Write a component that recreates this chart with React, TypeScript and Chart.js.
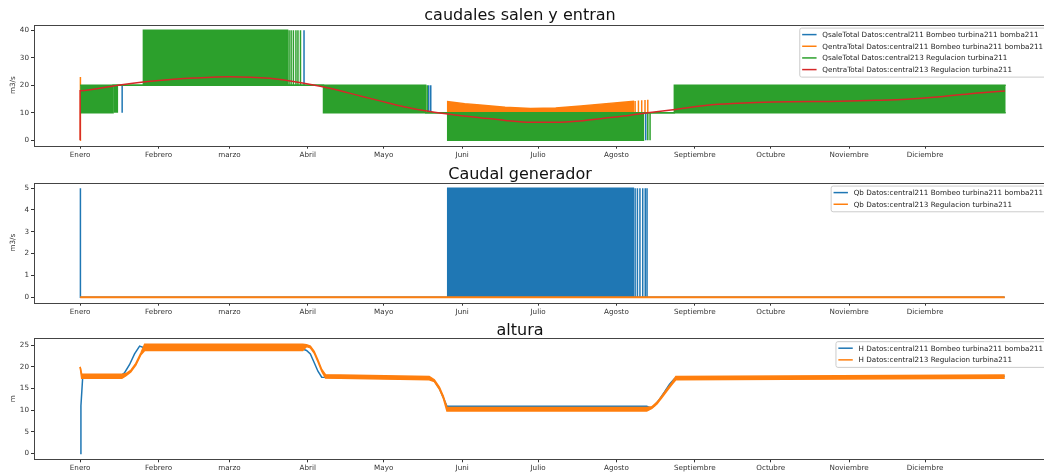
import React, { useEffect, useRef } from "react";
import { Chart, registerables } from "chart.js";

Chart.register(...registerables);

const FONT = "'DejaVu Sans', 'Liberation Sans', sans-serif";
const BLUE = "#1f77b4";
const ORANGE = "#ff7f0e";
const GREEN = "#2ca02c";
const RED = "#d62728";

// ---------- shared x axis (days of the year) ----------
const MONTH_LABELS = ["Enero", "Febrero", "marzo", "Abril", "Mayo", "Juni", "Julio", "Agosto", "Septiembre", "Octubre", "Noviembre", "Diciembre"];
const MONTH_DAYS = [0, 31, 59, 90, 120, 151, 181, 212, 243, 273, 304, 334];

// ---------- plot 1 : caudales salen y entran ----------
const P1_TITLE = "caudales salen y entran";
const P1_YLABEL = "m3/s";
const P1_YTICKS = [0, 10, 20, 30, 40];
const P1_LABELS = [
  "QsaleTotal Datos:central211 Bombeo turbina211 bomba211",
  "QentraTotal Datos:central211 Bombeo turbina211 bomba211",
  "QsaleTotal Datos:central213 Regulacion turbina211",
  "QentraTotal Datos:central213 Regulacion turbina211",
];
// QsaleTotal central211 (visible only where it sticks out of the green band)
const Q211_SPIKE_DAYS = [16.6, 88.5, 137.8, 138.6, 223.6];
const Q211_SPIKE_LOW = [10, 20, 10, 10, 0];
const Q211_SPIKE_HIGH = [20, 40, 20, 20, 10];
// QentraTotal central211
const QE211_START_DAYS = [0, 0, 0.2];
const QE211_START = [0, 23, 20];
const QE211_SUMMER_DAYS = [145.3, 145.3, 152, 158, 168, 178, 188, 198, 208, 218.7, 218.7];
const QE211_SUMMER = [10, 14.0, 13.3, 12.8, 12.0, 11.5, 11.7, 12.4, 13.3, 14.1, 10];
const QE211_SPIKE_DAYS = [219.4, 220.7, 222.0, 223.3, 224.4];
const QE211_SPIKE_LOW = [10, 10, 10, 10, 10];
const QE211_SPIKE_HIGH = [14.3, 14.4, 14.5, 14.6, 14.7];
// QsaleTotal central213 (fast oscillation, drawn as its envelope)
const QS213_DAYS = [0, 13.0, 13.0, 25.0, 25.0, 82.0, 82.0, 96.2, 96.2, 136.6, 136.6, 145.3, 145.3, 222.7, 222.7, 234.9, 234.9, 365.9];
const QS213_HIGH = [20, 20, 20, 20, 40, 40, 20, 20, 20, 20, 10, 10, 10, 10, 10, 10, 20, 20];
const QS213_LOW = [10, 10, 20, 20, 20, 20, 20, 20, 10, 10, 10, 10, 0, 0, 10, 10, 10, 10];
const QS213_SPIKE_DAYS = [13.5, 14.1, 14.7, 82.6, 83.4, 84.3, 85.3, 86.1, 87.1, 137.2, 224.4, 225.3];
const QS213_SPIKE_LOW = [10, 10, 10, 20, 20, 20, 20, 20, 20, 10, 0, 0];
const QS213_SPIKE_HIGH = [20, 20, 20, 40, 40, 40, 40, 40, 40, 20, 10, 10];
// QentraTotal central213
const QE213_DAYS = [0, 0, 15, 30, 45, 59, 75, 89, 100, 110.7, 118.6, 128, 138.3, 148, 158, 168, 177.9, 188, 197.6, 207, 217.4, 225.3, 234.4, 247.8, 260, 273.9, 300.4, 315, 326.9, 339.9, 353, 365.6];
const QE213 = [0, 18, 20, 21.6, 22.6, 23.1, 22.5, 20.6, 18.6, 16.1, 14.3, 12.2, 10.4, 9.2, 8.2, 7.2, 6.5, 6.5, 7.0, 8.0, 9.1, 10.1, 11.1, 12.7, 13.4, 13.9, 14.2, 14.5, 14.9, 15.8, 17.0, 17.9];

// ---------- plot 2 : Caudal generador ----------
const P2_TITLE = "Caudal generador";
const P2_YLABEL = "m3/s";
const P2_YTICKS = [0, 1, 2, 3, 4, 5];
const P2_LABELS = [
  "Qb Datos:central211 Bombeo turbina211 bomba211",
  "Qb Datos:central213 Regulacion turbina211",
];
const QB211_DAYS = [0, 0, 0.2, 145.3, 145.3, 218.7, 218.7, 365.5];
const QB211 = [0, 5, 0, 0, 5, 5, 0, 0];
const QB211_SPIKE_DAYS = [219.4, 220.3, 221.3, 222.4, 223.4, 224.1];
const QB211_SPIKE_LOW = [0, 0, 0, 0, 0, 0];
const QB211_SPIKE_HIGH = [5, 5, 5, 5, 5, 5];
const QB213_DAYS = [0, 365.5];
const QB213 = [0, 0];

// ---------- plot 3 : altura ----------
const P3_TITLE = "altura";
const P3_YLABEL = "m";
const P3_YTICKS = [0, 5, 10, 15, 20, 25];
const P3_LABELS = [
  "H Datos:central211 Bombeo turbina211 bomba211",
  "H Datos:central213 Regulacion turbina211",
];
const H211_DAYS = [0, 0.3, 1.0, 15.8, 17.5, 19.5, 21.5, 23.5, 25, 87.5, 88.5, 89.5, 91, 92.5, 94, 95.5, 138, 140, 142, 143.5, 145, 224, 225.5, 227, 229, 231, 233, 235, 365.5];
const H211 = [0, 11, 17.6, 17.8, 18.6, 20.5, 23, 24.8, 24.5, 24.5, 24, 23.8, 23, 21, 19, 17.6, 17.3, 16.8, 15, 13, 10.9, 10.9, 10.5, 11, 12.5, 14.2, 16, 17.3, 17.8];
const H213_DAYS = [0, 0.6, 16.5, 18, 20, 22, 24, 25.5, 88, 89.5, 91, 92.5, 94, 95.5, 97, 138, 140, 142, 143.5, 145, 224, 226, 228, 230, 232, 234, 235.5, 365.5];
const H213_HIGH = [20, 18.3, 18.3, 18.4, 19.2, 20.8, 23.2, 25.2, 25.2, 25.1, 24.8, 23.6, 21.6, 19.4, 18.2, 17.8, 17.0, 15.3, 13.3, 10.6, 10.6, 10.8, 11.8, 13.3, 14.9, 16.4, 17.8, 18.1];
const H213_LOW = [20, 17.4, 17.4, 17.9, 18.8, 20.4, 22.8, 23.8, 23.8, 24.7, 24.4, 23.2, 21.2, 19.0, 17.4, 17.0, 16.6, 14.9, 12.9, 9.8, 9.8, 10.4, 11.4, 12.9, 14.5, 16.0, 17.0, 17.4];

// ---------- layout ----------
const CANVAS_W = 1056;
const AXIS_LEFT = 34;
const PAD_RIGHT = 6.4;
const X_MIN = -18.25;
const X_MAX = 383.25;
const TITLE_X = 520;

type Pt = { x: number; y: number | null };
const zip = (xs: number[], ys: number[]): Pt[] => xs.map((x, i) => ({ x, y: ys[i] }));
const gap = (x: number): Pt => ({ x, y: null });
const spikes = (xs: number[], lo: number[], hi: number[]): Pt[] =>
  xs.flatMap((x, i) => [{ x, y: lo[i] }, { x, y: hi[i] }, gap(x)]);

type Spec = {
  datasets: any[];
  ymin: number;
  ymax: number;
  yticks: number[];
  ylabel: string;
  padTop: number;
  xAxisH: number;
  title: string;
  titleY: number;
  legend: { label: string; color: string }[];
};

function mplPlugin(spec: Spec) {
  return {
    id: "mpl",
    afterDraw(chart: any) {
      const { ctx, chartArea: a } = chart;
      ctx.save();
      // axes frame
      ctx.strokeStyle = "#444";
      ctx.lineWidth = 1;
      const l = Math.round(a.left) + 0.5;
      const t = Math.round(a.top) + 0.5;
      ctx.strokeRect(l, t, Math.round(a.right) - Math.round(a.left), Math.round(a.bottom) - Math.round(a.top));
      // title
      ctx.font = `16px ${FONT}`;
      ctx.fillStyle = "#111";
      ctx.textAlign = "center";
      ctx.textBaseline = "alphabetic";
      ctx.fillText(spec.title, TITLE_X, spec.titleY);
      // legend (upper right, matplotlib style)
      const fs = 7.2;
      ctx.font = `${fs}px ${FONT}`;
      const maxW = Math.max(...spec.legend.map((it) => ctx.measureText(it.label).width));
      const pitch = fs * 1.62;
      const n = spec.legend.length;
      const w = fs * 3.6 + maxW;
      const h = fs * 0.8 + (n - 1) * pitch + fs * 1.15;
      const x0 = a.right - fs * 0.5 - w;
      const y0 = a.top + fs * 0.4;
      ctx.beginPath();
      ctx.roundRect(x0 + 0.5, y0 + 0.5, w, h, 2);
      ctx.fillStyle = "rgba(255,255,255,0.8)";
      ctx.fill();
      ctx.strokeStyle = "#cccccc";
      ctx.lineWidth = 1;
      ctx.stroke();
      ctx.textAlign = "left";
      ctx.textBaseline = "middle";
      spec.legend.forEach((it, i) => {
        const cy = y0 + fs * 0.4 + fs * 0.575 + i * pitch;
        ctx.beginPath();
        ctx.moveTo(x0 + fs * 0.4, cy);
        ctx.lineTo(x0 + fs * 2.4, cy);
        ctx.strokeStyle = it.color;
        ctx.lineWidth = 1.5;
        ctx.stroke();
        ctx.fillStyle = "#222";
        ctx.fillText(it.label, x0 + fs * 3.2, cy + 0.5);
      });
      ctx.restore();
    },
  };
}

function makeConfig(spec: Spec) {
  const tickFont = { family: FONT, size: 7.2 };
  const n = spec.datasets.length;
  return {
    type: "line",
    data: {
      datasets: spec.datasets.map((d, i) => ({
        order: n - i,
        pointRadius: 0,
        pointHoverRadius: 0,
        borderWidth: 1.5,
        tension: 0,
        spanGaps: false,
        fill: false,
        ...d,
      })),
    },
    options: {
      responsive: false,
      animation: false,
      devicePixelRatio: 1,
      events: [],
      layout: { padding: { top: spec.padTop, right: PAD_RIGHT, left: 0, bottom: 0 } },
      plugins: {
        legend: { display: false },
        title: { display: false },
        tooltip: { enabled: false },
      },
      scales: {
        x: {
          type: "linear",
          min: X_MIN,
          max: X_MAX,
          afterFit: (s: any) => {
            s.height = spec.xAxisH;
          },
          afterBuildTicks: (s: any) => {
            s.ticks = MONTH_DAYS.map((v) => ({ value: v }));
          },
          ticks: {
            callback: (_v: any, i: number) => MONTH_LABELS[i],
            autoSkip: false,
            maxRotation: 0,
            minRotation: 0,
            font: tickFont,
            color: "#333",
            padding: 2,
          },
          grid: { drawOnChartArea: false, drawTicks: true, tickLength: 3, color: "#333" },
          border: { display: false },
        },
        y: {
          type: "linear",
          min: spec.ymin,
          max: spec.ymax,
          afterFit: (s: any) => {
            s.width = AXIS_LEFT;
          },
          afterBuildTicks: (s: any) => {
            s.ticks = spec.yticks.map((v) => ({ value: v }));
          },
          ticks: { font: tickFont, color: "#333", padding: 2, callback: (v: any) => String(v) },
          title: { display: true, text: spec.ylabel, font: tickFont, color: "#333", padding: { top: 9, bottom: 0 } },
          grid: { drawOnChartArea: false, drawTicks: true, tickLength: 3, color: "#333" },
          border: { display: false },
        },
      },
    },
    plugins: [mplPlugin(spec)],
  };
}

const SPEC1: Spec = {
  title: P1_TITLE,
  titleY: 20,
  ylabel: P1_YLABEL,
  ymin: -2,
  ymax: 42,
  yticks: P1_YTICKS,
  padTop: 24.7,
  xAxisH: 165 - 145.7,
  legend: [
    { label: P1_LABELS[0], color: BLUE },
    { label: P1_LABELS[1], color: ORANGE },
    { label: P1_LABELS[2], color: GREEN },
    { label: P1_LABELS[3], color: RED },
  ],
  datasets: [
    { label: P1_LABELS[0], data: spikes(Q211_SPIKE_DAYS, Q211_SPIKE_LOW, Q211_SPIKE_HIGH), borderColor: BLUE },
    {
      label: P1_LABELS[1],
      data: [
        ...zip(QE211_START_DAYS, QE211_START),
        gap(0.2),
        ...zip(QE211_SUMMER_DAYS, QE211_SUMMER),
        gap(218.7),
        ...spikes(QE211_SPIKE_DAYS, QE211_SPIKE_LOW, QE211_SPIKE_HIGH),
      ],
      borderColor: ORANGE,
      backgroundColor: ORANGE,
      fill: { value: 10 },
    },
    { label: P1_LABELS[2], data: zip(QS213_DAYS, QS213_HIGH), borderColor: GREEN, backgroundColor: GREEN, fill: "+1" },
    { label: "_low", data: zip(QS213_DAYS, QS213_LOW), borderColor: GREEN },
    { label: "_spikes", data: spikes(QS213_SPIKE_DAYS, QS213_SPIKE_LOW, QS213_SPIKE_HIGH), borderColor: GREEN },
    { label: P1_LABELS[3], data: zip(QE213_DAYS, QE213), borderColor: RED, cubicInterpolationMode: "monotone" },
  ],
};

const SPEC2: Spec = {
  title: P2_TITLE,
  titleY: 14,
  ylabel: P2_YLABEL,
  ymin: -0.25,
  ymax: 5.25,
  yticks: P2_YTICKS,
  padTop: 17.7,
  xAxisH: 155 - 137.7,
  legend: [
    { label: P2_LABELS[0], color: BLUE },
    { label: P2_LABELS[1], color: ORANGE },
  ],
  datasets: [
    { label: P2_LABELS[0], data: zip(QB211_DAYS, QB211), borderColor: BLUE, backgroundColor: BLUE, fill: { value: 0 } },
    { label: "_spikes", data: spikes(QB211_SPIKE_DAYS, QB211_SPIKE_LOW, QB211_SPIKE_HIGH), borderColor: BLUE },
    { label: P2_LABELS[1], data: zip(QB213_DAYS, QB213), borderColor: ORANGE, borderWidth: 2 },
  ],
};

const SPEC3: Spec = {
  title: P3_TITLE,
  titleY: 15,
  ylabel: P3_YLABEL,
  ymin: -1.35,
  ymax: 26.6,
  yticks: P3_YTICKS,
  padTop: 18.3,
  xAxisH: 152 - 139.3,
  legend: [
    { label: P3_LABELS[0], color: BLUE },
    { label: P3_LABELS[1], color: ORANGE },
  ],
  datasets: [
    { label: P3_LABELS[0], data: zip(H211_DAYS, H211), borderColor: BLUE },
    { label: P3_LABELS[1], data: zip(H213_DAYS, H213_HIGH), borderColor: ORANGE, backgroundColor: ORANGE, fill: "+1" },
    { label: "_low", data: zip(H213_DAYS, H213_LOW), borderColor: ORANGE },
  ],
};

function Plot({ spec, top, height }: { spec: Spec; top: number; height: number }) {
  const ref = useRef<HTMLCanvasElement>(null);
  useEffect(() => {
    const chart = new Chart(ref.current as HTMLCanvasElement, makeConfig(spec) as any);
    return () => chart.destroy();
  }, [spec]);
  return (
    <canvas
      ref={ref}
      width={CANVAS_W}
      height={height}
      style={{ position: "absolute", left: 0, top, width: CANVAS_W, height }}
    />
  );
}

export default function App() {
  return (
    <div
      style={{
        position: "fixed",
        left: 0,
        top: 0,
        width: 1044,
        height: 472,
        overflow: "hidden",
        background: "#fff",
      }}
    >
      <Plot spec={SPEC1} top={0} height={165} />
      <Plot spec={SPEC2} top={165} height={155} />
      <Plot spec={SPEC3} top={320} height={152} />
    </div>
  );
}
